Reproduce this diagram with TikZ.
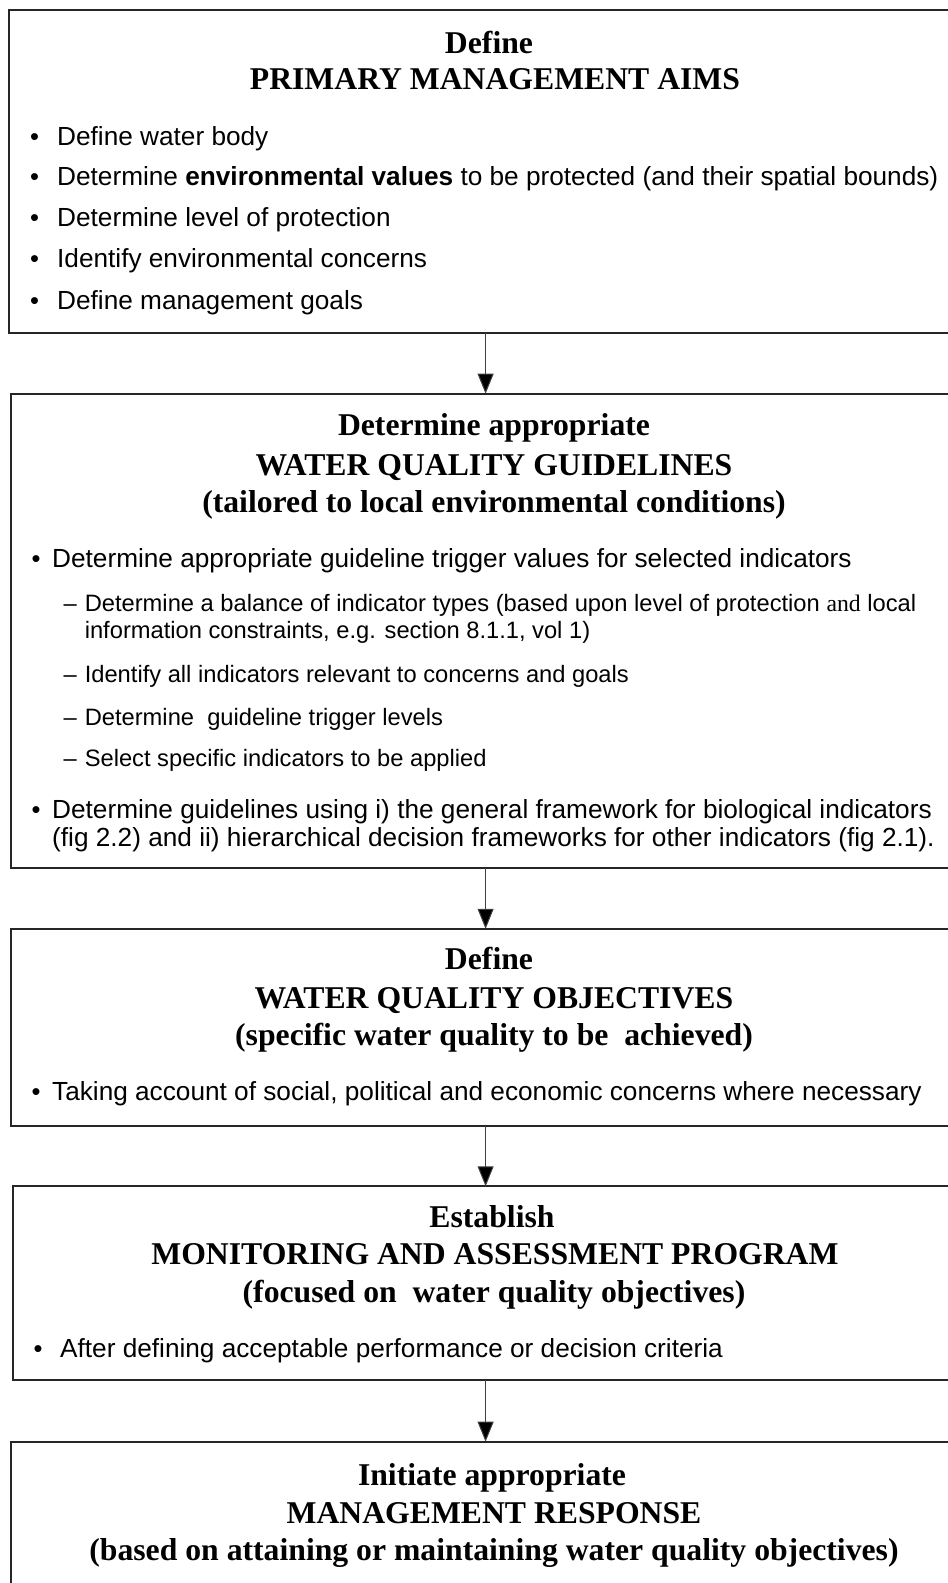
\documentclass[tikz,border=0pt]{standalone}
\usepackage{fontspec}
\setmainfont{Liberation Serif}
\setsansfont{Liberation Sans}
\usetikzlibrary{arrows.meta}
\tikzset{
  box/.style={draw=black!85, line width=2pt, anchor=north west, inner sep=0pt, outer sep=0pt},
  ttl/.style={font=\bfseries\fontsize{31.7}{38}\selectfont, anchor=base, inner sep=0pt},
  itm/.style={font=\sffamily\fontsize{26.2}{27}\selectfont, anchor=base west, inner sep=0pt},
  bul/.style={font=\sffamily\fontsize{25.5}{27}\selectfont, anchor=base, inner sep=0pt},
  subitm/.style={font=\sffamily\fontsize{23.7}{27}\selectfont, anchor=base west, inner sep=0pt},
  arr/.style={line width=1pt, draw=black!75, -{Triangle[length=20pt,width=16pt,fill=black]}}
}
\begin{document}
\begin{tikzpicture}[x=1pt,y=-1pt]
\useasboundingbox (0,0) rectangle (948,1583);
\clip (0,0) rectangle (948,1583);
% boxes
\node[box, minimum width=953.2pt, minimum height=323pt] (b1) at (9,10) {};
\node[box, minimum width=949.2pt, minimum height=474.3pt] (b2) at (11,393.7) {};
\node[box, minimum width=949.2pt, minimum height=196.9pt] (b3) at (11,928.8) {};
\node[box, minimum width=945.2pt, minimum height=193.7pt] (b4) at (13,1186.3) {};
\node[box, minimum width=949.2pt, minimum height=200pt] (b5) at (11,1441.7) {};
% arrows
\draw[arr] (b1.south) -- (b2.north);
\draw[arr] (b2.south) -- (b3.north);
\draw[arr] (b3.south) -- (b4.north);
\draw[arr] (b4.south) -- (b5.north);
% box 1
\node[ttl] (t11) at (489,53) {Define};
\node[ttl] (t12) at (495,89.3) {PRIMARY MANAGEMENT AIMS};
\node[bul] (p11) at (34.5,145) {•};
\node[itm] (i11) at (57,145) {Define water body};
\node[bul] (p12) at (34.5,185.5) {•};
\node[itm] (i12) at (57,185.5) {Determine \textbf{environmental values} to be protected (and their spatial bounds)};
\node[bul] (p13) at (34.5,226) {•};
\node[itm] (i13) at (57,226) {Determine level of protection};
\node[bul] (p14) at (34.5,267) {•};
\node[itm] (i14) at (57,267) {Identify environmental concerns};
\node[bul] (p15) at (34.5,309) {•};
\node[itm] (i15) at (57,309) {Define management goals};
% box 2
\node[ttl] (t21) at (494,435.5) {Determine appropriate};
\node[ttl] (t22) at (494,475) {WATER QUALITY GUIDELINES};
\node[ttl] (t23) at (494,512) {(tailored to local environmental conditions)};
\node[bul] (p21) at (36,567) {•};
\node[itm] (i21) at (52,567) {Determine appropriate guideline trigger values for selected indicators};
\node[subitm] (d21) at (63.5,611) {–};
\node[subitm] (s21) at (84.6,611) {Determine a balance of indicator types (based upon level of protection {\rmfamily and} local};
\node[subitm] (s21b) at (84.6,638.5) {information constraints, e.g. section 8.1.1, vol 1)};
\node[subitm] (d22) at (63.5,682) {–};
\node[subitm] (s22) at (84.6,682) {Identify all indicators relevant to concerns and goals};
\node[subitm] (d23) at (63.5,725) {–};
\node[subitm] (s23) at (84.6,725) {Determine~~guideline trigger levels};
\node[subitm] (d24) at (63.5,766.5) {–};
\node[subitm] (s24) at (84.6,766.5) {Select specific indicators to be applied};
\node[bul] (p22) at (36,818.5) {•};
\node[itm] (i22) at (52,818.5) {Determine guidelines using i) the general framework for biological indicators};
\node[itm] (i22b) at (52,846) {(fig 2.2) and ii) hierarchical decision frameworks for other indicators (fig 2.1).};
% box 3
\node[ttl] (t31) at (489,969.5) {Define};
\node[ttl] (t32) at (494,1008) {WATER QUALITY OBJECTIVES};
\node[ttl] (t33) at (494,1045) {(specific water quality to be~~achieved)};
\node[bul] (p31) at (36,1100) {•};
\node[itm] (i31) at (52,1100) {Taking account of social, political and economic concerns where necessary};
% box 4
\node[ttl] (t41) at (492,1227) {Establish};
\node[ttl] (t42) at (495,1264.5) {MONITORING AND ASSESSMENT PROGRAM};
\node[ttl] (t43) at (494,1302.5) {(focused on~~water quality objectives)};
\node[bul] (p41) at (38,1357) {•};
\node[itm] (i41) at (60,1357) {After defining acceptable performance or decision criteria};
% box 5
\node[ttl] (t51) at (492,1485.5) {Initiate appropriate};
\node[ttl] (t52) at (494,1523) {MANAGEMENT RESPONSE};
\node[ttl] (t53) at (494,1560) {(based on attaining or maintaining water quality objectives)};
\end{tikzpicture}
\end{document}
